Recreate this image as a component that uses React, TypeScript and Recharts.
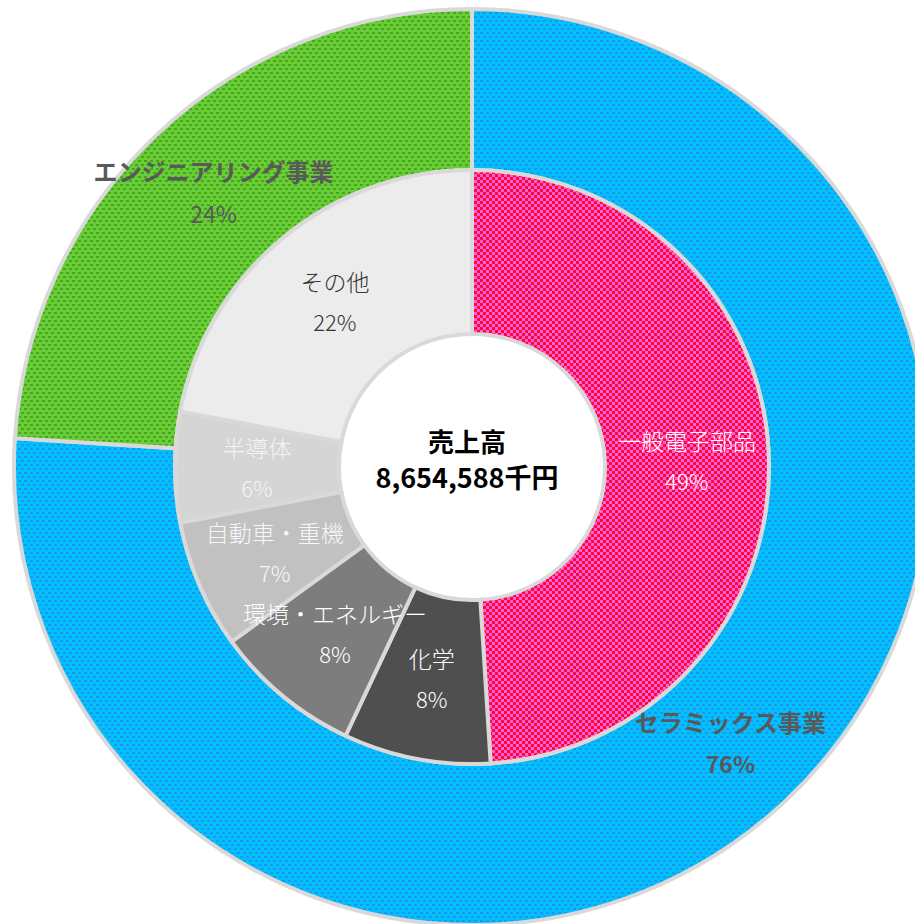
import { PieChart, Pie, Cell } from "recharts"

const FONT = '"Noto Sans CJK JP", "Noto Sans", sans-serif'
const RADIAN = Math.PI / 180
const CX = 467
const CY = 462

// outer ring: business segments (%)
const segNames = ["セラミックス事業", "エンジニアリング事業"]
const segValues = [76, 24]
const segFills = ["url(#blueDots)", "url(#greenDots)"]
const segBold = [true, false]

// inner ring: product categories (%)
const catNames = ["一般電子部品", "化学", "環境・エネルギー", "自動車・重機", "半導体", "その他"]
const catValues = [49, 8, 8, 7, 6, 22]
const catFills = ["url(#redCheck)", "#4f4f4f", "#7d7d7d", "#c1c1c1", "#d5d5d5", "#ececec"]
const catText = ["#ffffff", "#ffffff", "#ffffff", "#f7f7f7", "#f4f4f4", "#333333"]

const segData = segNames.map((name, i) => ({ name, value: segValues[i] }))
const catData = catNames.map((name, i) => ({ name, value: catValues[i] }))

function spot(p: any) {
  const r = (p.innerRadius + p.outerRadius) / 2
  return {
    x: p.cx + r * Math.cos(-p.midAngle * RADIAN),
    y: p.cy + r * Math.sin(-p.midAngle * RADIAN),
  }
}

function OuterLabel(p: any) {
  const { x, y } = spot(p)
  const i = p.index
  return (
    <g>
      <text x={x} y={y - 21} textAnchor="middle" dominantBaseline="central" fill="#595959" fontSize={24} fontWeight="bold" fontFamily={FONT}>
        {segNames[i]}
      </text>
      <text x={x} y={y + 21} textAnchor="middle" dominantBaseline="central" fill="#595959" fontSize={23} fontWeight={segBold[i] ? "bold" : "normal"} fontFamily={FONT}>
        {segValues[i]}%
      </text>
    </g>
  )
}

function InnerLabel(p: any) {
  const { x, y } = spot(p)
  const i = p.index
  return (
    <g>
      <text x={x} y={y - 20} textAnchor="middle" dominantBaseline="central" fill={catText[i]} fontSize={23} fontWeight={300} fontFamily={FONT}>
        {catNames[i]}
      </text>
      <text x={x} y={y + 20} textAnchor="middle" dominantBaseline="central" fill={catText[i]} fontSize={22} fontWeight={300} fontFamily={FONT}>
        {catValues[i]}%
      </text>
    </g>
  )
}

export default function App() {
  return (
    <div style={{ position: "absolute", left: 0, top: 0, background: "#fff" }}>
      <PieChart width={915} height={924}>
        <defs>
          <pattern id="blueDots" width="6" height="8" patternUnits="userSpaceOnUse">
            <rect width="6" height="8" fill="#02bfff" />
            <rect x="0" y="0" width="3" height="2" fill="#1a98e6" />
            <rect x="3" y="4" width="3" height="2" fill="#1a98e6" />
          </pattern>
          <pattern id="greenDots" width="6" height="8" patternUnits="userSpaceOnUse">
            <rect width="6" height="8" fill="#6ccc38" />
            <rect x="0" y="0" width="3" height="2" fill="#3faa1e" />
            <rect x="3" y="4" width="3" height="2" fill="#3faa1e" />
          </pattern>
          <pattern id="redCheck" width="6" height="6" patternUnits="userSpaceOnUse">
            <rect width="6" height="6" fill="#ff0a2a" />
            <rect x="0" y="0" width="3" height="3" fill="#ff5ee6" />
            <rect x="3" y="3" width="3" height="3" fill="#ff5ee6" />
          </pattern>
        </defs>
        <Pie
          data={segData}
          dataKey="value"
          nameKey="name"
          cx={CX}
          cy={CY}
          innerRadius={297}
          outerRadius={458}
          startAngle={90}
          endAngle={-270}
          stroke="#d9d9d9"
          strokeWidth={4}
          label={OuterLabel}
          labelLine={false}
          isAnimationActive={false}
        >
          {segData.map((_, i) => (
            <Cell key={i} fill={segFills[i]} />
          ))}
        </Pie>
        <Pie
          data={catData}
          dataKey="value"
          nameKey="name"
          cx={CX}
          cy={CY}
          innerRadius={133}
          outerRadius={297}
          startAngle={90}
          endAngle={-270}
          stroke="#d9d9d9"
          strokeWidth={4}
          label={InnerLabel}
          labelLine={false}
          isAnimationActive={false}
        >
          {catData.map((_, i) => (
            <Cell key={i} fill={catFills[i]} />
          ))}
        </Pie>
        <text x={CX} y={CY - 22} textAnchor="middle" dominantBaseline="central" fill="#000" fontSize={26} fontWeight="bold" fontFamily={FONT}>
          売上高
        </text>
        <text x={CX} y={CY + 14} textAnchor="middle" dominantBaseline="central" fill="#000" fontSize={27} fontWeight="bold" fontFamily={FONT}>
          8,654,588千円
        </text>
      </PieChart>
    </div>
  )
}
